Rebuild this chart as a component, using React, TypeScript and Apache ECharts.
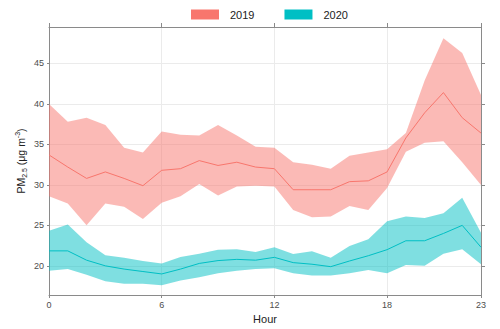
import React, { useEffect, useRef } from "react";
import * as echarts from "echarts";

const hours = ["0","1","2","3","4","5","6","7","8","9","10","11","12","13","14","15","16","17","18","19","20","21","22","23"];
const xTickHours = [0, 6, 12, 18, 23];
const yTicks = [20, 25, 30, 35, 40, 45];

const mean2019 = [33.7, 32.2, 30.8, 31.6, 30.8, 29.9, 31.8, 32.0, 33.0, 32.4, 32.8, 32.2, 32.0, 29.4, 29.4, 29.4, 30.4, 30.5, 31.6, 35.8, 38.9, 41.4, 38.3, 36.4];
const upper2019 = [40.0, 37.8, 38.3, 37.4, 34.6, 34.0, 36.6, 36.2, 36.1, 37.4, 36.1, 34.7, 34.6, 32.8, 32.5, 32.0, 33.6, 34.0, 34.4, 36.4, 42.9, 48.1, 46.3, 41.1];
const lower2019 = [28.6, 27.7, 25.0, 27.7, 27.3, 25.8, 27.8, 28.6, 30.1, 28.7, 29.8, 29.9, 29.8, 26.9, 26.0, 26.1, 27.4, 26.9, 29.6, 34.1, 35.2, 35.4, 32.8, 30.0];

const mean2020 = [21.85, 21.85, 20.7, 20.0, 19.6, 19.3, 19.0, 19.6, 20.3, 20.65, 20.8, 20.7, 21.05, 20.4, 20.2, 19.9, 20.6, 21.25, 22.0, 23.1, 23.1, 24.0, 25.0, 22.3];
const upper2020 = [24.35, 25.1, 22.9, 21.3, 21.0, 20.6, 20.3, 21.1, 21.5, 22.0, 22.05, 21.7, 22.3, 21.45, 21.8, 21.0, 22.45, 23.3, 25.5, 26.1, 25.9, 26.5, 28.4, 24.1];
const lower2020 = [19.4, 19.6, 18.9, 18.1, 17.8, 17.8, 17.6, 18.2, 18.6, 19.1, 19.4, 19.6, 19.7, 19.1, 18.8, 18.8, 19.1, 19.5, 19.1, 20.1, 20.0, 21.5, 22.05, 20.2];

const RED = "#F8766D";
const TEAL = "#00BFC4";

export default function App() {
  const ref = useRef<HTMLDivElement>(null);
  useEffect(() => {
    if (!ref.current) return;
    const chart = echarts.init(ref.current, null, { renderer: "svg" });
    const isTick = (i: number) => xTickHours.indexOf(i) >= 0;
    const font = "Liberation Sans";
    const axisLineStyle = { color: "#8a8a8a", width: 1 };
    const band = (name: string, lower: number[], upper: number[], stack: string, color: string) => [
      {
        name: name + "_lo",
        type: "line",
        data: lower,
        stack,
        symbol: "none",
        silent: true,
        lineStyle: { opacity: 0 },
        z: 1,
      },
      {
        name: name + "_band",
        type: "line",
        data: upper.map((u, i) => +(u - lower[i]).toFixed(3)),
        stack,
        symbol: "none",
        silent: true,
        lineStyle: { opacity: 0 },
        areaStyle: { color, opacity: 1 },
        z: 1,
      },
    ];
    chart.setOption({
      animation: false,
      textStyle: { fontFamily: font },
      legend: {
        top: 4,
        left: 186,
        itemWidth: 28,
        itemHeight: 10,
        itemGap: 30,
        icon: "rect",
        data: [
          { name: "2019", itemStyle: { color: RED } },
          { name: "2020", itemStyle: { color: TEAL } },
        ],
        textStyle: { fontSize: 11, color: "#222", fontFamily: font, padding: [0, 0, 0, 6] },
        selectedMode: false,
      },
      grid: { left: 49, right: 19, top: 27, bottom: 28 },
      xAxis: [
        {
          type: "category",
          data: hours,
          boundaryGap: false,
          name: "Hour",
          nameLocation: "middle",
          nameGap: 18,
          nameMoveOverlap: false,
          nameTextStyle: { fontSize: 11, color: "#222", fontFamily: font },
          axisLine: { show: true, lineStyle: axisLineStyle },
          axisTick: { show: true, length: 3, interval: (i: number) => isTick(i), lineStyle: axisLineStyle },
          axisLabel: { interval: (i: number) => isTick(i), fontSize: 9, color: "#4d4d4d", margin: 5, fontFamily: font },
          splitLine: { show: true, interval: (i: number) => isTick(i), lineStyle: { color: "#ebebeb", width: 1 } },
        },
        {
          type: "category",
          data: hours,
          boundaryGap: false,
          position: "top",
          axisLine: { show: true, lineStyle: axisLineStyle },
          axisTick: { show: true, length: 4, interval: (i: number) => isTick(i), lineStyle: axisLineStyle },
          axisLabel: { show: false },
          splitLine: { show: false },
        },
      ],
      yAxis: [
        {
          type: "value",
          min: 16.4,
          max: 49.5,
          name: "{n|PM}{sub|2.5}{n| (μg m}{sup|-3}{n|)}",
          nameLocation: "middle",
          nameGap: 21,
          nameMoveOverlap: false,
          nameRotate: 90,
          nameTextStyle: {
            color: "#222",
            fontFamily: font,
            rich: {
              n: { fontSize: 10.5, lineHeight: 14, verticalAlign: "middle", color: "#222", fontFamily: font },
              sub: { fontSize: 7, lineHeight: 14, verticalAlign: "bottom", color: "#222", fontFamily: font },
              sup: { fontSize: 7, lineHeight: 14, verticalAlign: "top", color: "#222", fontFamily: font },
            },
          },
          axisLine: { show: true, lineStyle: axisLineStyle },
          axisTick: { show: true, length: 2, customValues: yTicks, lineStyle: axisLineStyle },
          axisLabel: { customValues: yTicks, fontSize: 9, color: "#4d4d4d", margin: 5, fontFamily: font },
          splitLine: { show: true, lineStyle: { color: "#ebebeb", width: 1 } },
        },
        {
          type: "value",
          min: 16.4,
          max: 49.5,
          position: "right",
          axisLine: { show: true, lineStyle: axisLineStyle },
          axisTick: { show: true, length: 4, customValues: yTicks, lineStyle: axisLineStyle },
          axisLabel: { show: false, customValues: yTicks },
          splitLine: { show: false },
        },
      ],
      series: [
        ...band("2019", lower2019, upper2019, "r19", "rgba(248,118,109,0.5)"),
        ...band("2020", lower2020, upper2020, "r20", "rgba(0,191,196,0.5)"),
        {
          name: "2019",
          type: "line",
          data: mean2019,
          symbol: "none",
          lineStyle: { color: RED, width: 1 },
          itemStyle: { color: RED },
          z: 3,
        },
        {
          name: "2020",
          type: "line",
          data: mean2020,
          symbol: "none",
          lineStyle: { color: TEAL, width: 1 },
          itemStyle: { color: TEAL },
          z: 3,
        },
      ],
    });
    return () => chart.dispose();
  }, []);
  return <div ref={ref} style={{ width: 500, height: 329, position: "absolute", left: 0, top: 0 }} />;
}
